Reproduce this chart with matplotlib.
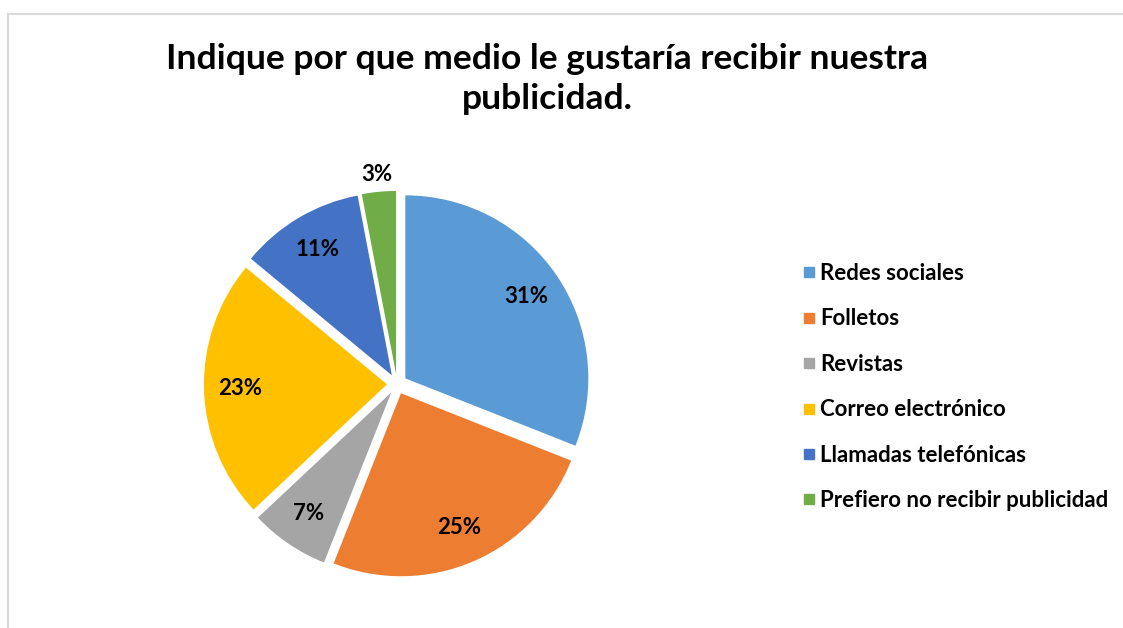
import numpy as np
import matplotlib.pyplot as plt
from matplotlib.lines import Line2D

plt.rcParams['font.family'] = ['Lato', 'DejaVu Sans']

categorias = ["Redes sociales", "Folletos", "Revistas", "Correo electrónico",
              "Llamadas telefónicas", "Prefiero no recibir publicidad"]
porcentajes = [31, 25, 7, 23, 11, 3]
colores = ["#5B9BD5", "#ED7D31", "#A5A5A5", "#FFC000", "#4472C4", "#70AD47"]

W, H = 1123, 628
fig = plt.figure(figsize=(W / 100, H / 100), dpi=100)

# marco gris del area del grafico
fig.add_artist(Line2D([8 / W, 1], [1 - 14 / H, 1 - 14 / H], color="#D9D9D9", lw=1.5))
fig.add_artist(Line2D([8 / W, 8 / W], [1 - 14 / H, 0], color="#D9D9D9", lw=1.5))

fig.text(547 / W, 1 - 79 / H,
         "Indique por que medio le gustaría recibir nuestra\npublicidad.",
         ha="center", va="center", fontsize=25.5, fontweight="bold",
         linespacing=1.3)

# pie centrado en (397, 384) px con radio 183 px
R = 183
cx, cy = 397, 384
lim = 1.25
size = 2 * lim * R
ax = fig.add_axes([(cx - size / 2) / W, (H - cy - size / 2) / H, size / W, size / H])

explode = [0.055] * len(porcentajes)
wedges, texts, autotexts = ax.pie(
    porcentajes, colors=colores, startangle=90, counterclock=False,
    explode=explode, radius=1, autopct=lambda p: f"{p:.0f}%",
    pctdistance=0.8, wedgeprops=dict(linewidth=0),
    textprops=dict(fontsize=16, fontweight="bold", color="black"))
ax.set_xlim(-lim, lim)
ax.set_ylim(-lim, lim)
ax.set_aspect("equal")
ax.axis("off")

# la etiqueta del sector mas pequeno va fuera del pie
w = wedges[-1]
ang = np.deg2rad((w.theta1 + w.theta2) / 2)
autotexts[-1].set_position((1.15 * np.cos(ang), 1.15 * np.sin(ang)))

handles = [Line2D([], [], marker="s", linestyle="None", markersize=7,
                  markerfacecolor=c, markeredgecolor=c) for c in colores]
fig.legend(handles, categorias, loc="upper left",
           bbox_to_anchor=(782 / W, 1 - 243 / H), frameon=False,
           prop=dict(size=16, weight="bold"), handletextpad=0.2,
           labelspacing=1.1, handlelength=0.6)

fig.savefig("out.png", dpi=100)
